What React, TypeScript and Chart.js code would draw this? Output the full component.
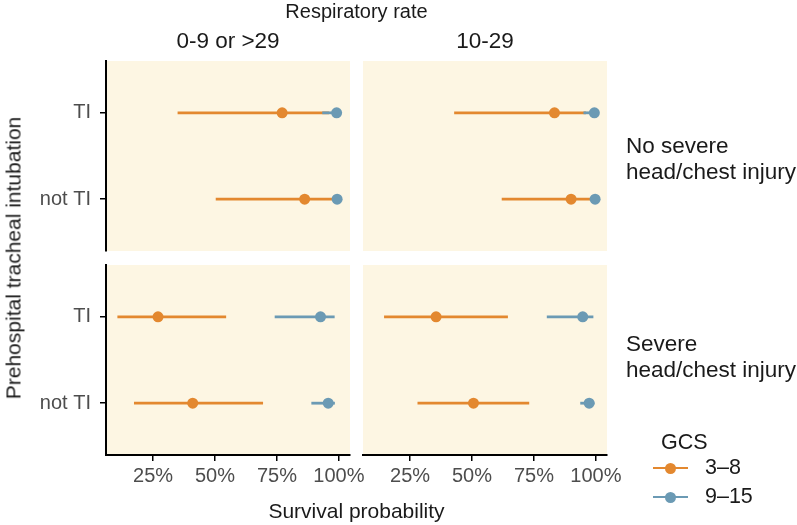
import React, { useEffect, useRef } from "react";
import { Chart, registerables } from "chart.js";

Chart.register(...registerables);

// ---------- data ----------
const RESP_RATE = ["0-9 or >29", "10-29"];
const INJURY = [["No severe", "head/chest injury"], ["Severe", "head/chest injury"]];
const ROWS = ["TI", "not TI"];
const GROUPS = ["3–8", "9–15"];
const X_TICKS = [25, 50, 75, 100];

// panels: [No severe × 0-9/>29, No severe × 10-29, Severe × 0-9/>29, Severe × 10-29]
// each inner array: [TI, not TI]
const GCS_3_8_EST = [[77.1, 86.2], [83.3, 90.0], [27.0, 41.0], [35.5, 50.6]];
const GCS_3_8_LO = [[34.9, 50.3], [42.8, 62.0], [10.6, 17.3], [14.5, 28.0]];
const GCS_3_8_HI = [[96.0, 98.0], [96.0, 98.0], [54.5, 69.4], [64.5, 73.1]];
const GCS_9_15_EST = [[99.1, 99.3], [99.4, 99.7], [92.6, 95.7], [94.7, 97.3]];
const GCS_9_15_LO = [[93.3, 97.5], [95.0, 97.8], [74.1, 88.9], [80.2, 93.7]];
const GCS_9_15_HI = [[99.8, 99.9], [99.9, 99.9], [98.3, 98.4], [99.0, 99.4]];

const X_MIN = 6;
const X_MAX = 104.5;

// ---------- style ----------
const W = 797;
const H = 525;
const COLORS = ["#E3882F", "#6B9AB4"];
const PANEL_BG = "#FDF6E3";
const FONT = '"Liberation Sans", Arial, Helvetica, sans-serif';
const COL_X = [[106, 350], [363, 607]];
const ROW_Y = [[61, 251], [265, 455]];
const STRIP_TOP = [133, 331];
const X_AXIS_H = 45;
const Y_AXIS_W = 106;

const SERIES = [
  { est: GCS_3_8_EST, lo: GCS_3_8_LO, hi: GCS_3_8_HI },
  { est: GCS_9_15_EST, lo: GCS_9_15_LO, hi: GCS_9_15_HI },
];

const panelBg = {
  id: "panelBg",
  beforeDraw(chart: any) {
    const { ctx, chartArea: a } = chart;
    ctx.save();
    ctx.fillStyle = PANEL_BG;
    ctx.fillRect(a.left, a.top, a.right - a.left, a.bottom - a.top);
    ctx.restore();
  },
};

function buildConfig(r: number, c: number): any {
  const p = r * 2 + c;
  const datasets: any[] = [];
  SERIES.forEach((s, g) => {
    ROWS.forEach((_, i) => {
      datasets.push({
        data: [
          { x: s.lo[p][i], y: i + 1 },
          { x: s.hi[p][i], y: i + 1 },
        ],
        showLine: true,
        borderColor: COLORS[g],
        borderWidth: 2.8,
        pointRadius: 0,
        order: g === 0 ? 3 : 1,
      });
    });
    datasets.push({
      data: ROWS.map((_, i) => ({ x: s.est[p][i], y: i + 1 })),
      pointRadius: 5.5,
      pointBackgroundColor: COLORS[g],
      pointBorderWidth: 0,
      borderWidth: 0,
      showLine: false,
      order: g === 0 ? 2 : 0,
    });
  });

  const showX = r === 1;
  const showY = c === 0;
  const axisCommon = {
    grid: {
      display: true,
      drawOnChartArea: false,
      drawTicks: true,
      tickLength: 6,
      color: "#000",
      lineWidth: 1.5,
    },
    border: { display: true, color: "#000", width: 2 },
  };

  return {
    type: "scatter",
    data: { datasets },
    plugins: [panelBg],
    options: {
      animation: false,
      responsive: false,
      events: [],
      layout: {
        padding: {
          left: showY ? 0 : COL_X[c][0],
          right: W - COL_X[c][1],
          top: ROW_Y[r][0],
          bottom: showX ? H - ROW_Y[r][1] - X_AXIS_H : H - ROW_Y[r][1],
        },
      },
      plugins: { legend: { display: false }, tooltip: { enabled: false }, title: { display: false } },
      scales: {
        x: {
          type: "linear",
          display: showX,
          min: X_MIN,
          max: X_MAX,
          afterBuildTicks: (s: any) => {
            s.ticks = X_TICKS.map((v) => ({ value: v }));
          },
          afterFit: (s: any) => {
            if (!showX) return;
            s.height = X_AXIS_H;
            s.paddingLeft = 0;
            s.paddingRight = 0;
          },
          ticks: {
            callback: (v: number) => `${v}%`,
            color: "#4D4D4D",
            font: { family: FONT, size: 20 },
            padding: 3,
            maxRotation: 0,
            autoSkip: false,
          },
          ...axisCommon,
        },
        y: {
          type: "linear",
          display: showY,
          reverse: true,
          min: 0.4,
          max: 2.6,
          afterBuildTicks: (s: any) => {
            s.ticks = ROWS.map((_, i) => ({ value: i + 1 }));
          },
          afterFit: (s: any) => {
            if (!showY) return;
            s.width = Y_AXIS_W;
            s.paddingTop = 0;
            s.paddingBottom = 0;
          },
          ticks: {
            callback: (v: number) => ROWS[v - 1],
            color: "#4D4D4D",
            font: { family: FONT, size: 20 },
            padding: 9,
            autoSkip: false,
          },
          ...axisCommon,
        },
      },
    },
  };
}

function Panel({ r, c }: { r: number; c: number }) {
  const ref = useRef<HTMLCanvasElement>(null);
  useEffect(() => {
    const chart = new Chart(ref.current as HTMLCanvasElement, buildConfig(r, c));
    return () => chart.destroy();
  }, [r, c]);
  return (
    <canvas
      ref={ref}
      width={W}
      height={H}
      style={{ position: "absolute", left: 0, top: 0, width: W, height: H, pointerEvents: "none" }}
    />
  );
}

const textBase: React.CSSProperties = {
  position: "absolute",
  fontFamily: FONT,
  whiteSpace: "nowrap",
  color: "#1A1A1A",
  lineHeight: 1,
};

export default function App() {
  const midX = (COL_X[0][0] + COL_X[1][1]) / 2;
  const midY = (ROW_Y[0][0] + ROW_Y[1][1]) / 2;
  return (
    <div style={{ position: "absolute", left: 0, top: 0, width: W, height: H, background: "#fff", overflow: "hidden" }}>
      {[0, 1].map((r) => [0, 1].map((c) => <Panel key={`${r}-${c}`} r={r} c={c} />))}

      <div style={{ ...textBase, left: midX, top: 11, transform: "translate(-50%,-50%)", fontSize: 20 }}>
        Respiratory rate
      </div>
      {RESP_RATE.map((t, c) => (
        <div
          key={t}
          style={{
            ...textBase,
            left: (COL_X[c][0] + COL_X[c][1]) / 2,
            top: 41,
            transform: "translate(-50%,-50%)",
            fontSize: 22.5,
            color: "#1A1A1A",
          }}
        >
          {t}
        </div>
      ))}
      {INJURY.map((lines, r) => (
        <div
          key={r}
          style={{
            ...textBase,
            left: 626,
            top: STRIP_TOP[r],
            fontSize: 22.5,
            lineHeight: "26px",
            color: "#1A1A1A",
          }}
        >
          {lines.map((l) => (
            <div key={l}>{l}</div>
          ))}
        </div>
      ))}
      <div
        style={{
          ...textBase,
          left: 13,
          top: midY,
          transform: "translate(-50%,-50%) rotate(-90deg)",
          fontSize: 21,
        }}
      >
        Prehospital tracheal intubation
      </div>
      <div style={{ ...textBase, left: midX, top: 510, transform: "translate(-50%,-50%)", fontSize: 21 }}>
        Survival probability
      </div>

      <div style={{ ...textBase, left: 661, top: 443, transform: "translateY(-50%)", fontSize: 21.5 }}>GCS</div>
      {GROUPS.map((g, i) => (
        <div key={g} style={{ position: "absolute", left: 653, top: 468 + i * 29, width: 140, height: 0 }}>
          <div
            style={{
              position: "absolute",
              left: 0,
              top: -1.4,
              width: 35,
              height: 2.8,
              background: COLORS[i],
            }}
          />
          <div
            style={{
              position: "absolute",
              left: 17.5 - 5.5,
              top: -5.5,
              width: 11,
              height: 11,
              borderRadius: "50%",
              background: COLORS[i],
            }}
          />
          <div style={{ ...textBase, left: 52, top: 0, transform: "translateY(-50%)", fontSize: 21.5 }}>{g}</div>
        </div>
      ))}
    </div>
  );
}
